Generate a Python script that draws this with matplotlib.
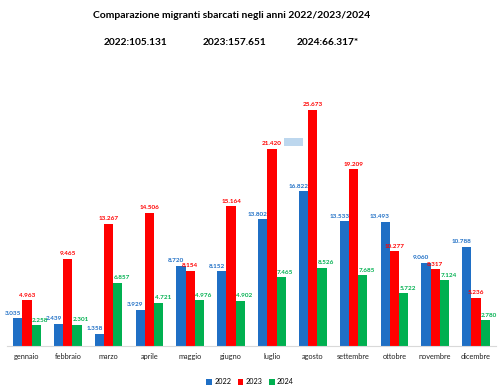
import matplotlib
matplotlib.use("Agg")
import matplotlib.pyplot as plt
import numpy as np
from matplotlib.patches import Rectangle

months = ["gennaio", "febbraio", "marzo", "aprile", "maggio", "giugno",
          "luglio", "agosto", "settembre", "ottobre", "novembre", "dicembre"]
v2022 = [3035, 2439, 1358, 3929, 8720, 8152, 13802, 16822, 13533, 13493, 9060, 10788]
v2023 = [4963, 9465, 13267, 14506, 8154, 15164, 21420, 25673, 19209, 10277, 8317, 5236]
v2024 = [2258, 2301, 6857, 4721, 4976, 4902, 7465, 8526, 7685, 5722, 7124, 2780]
series_names = ["2022", "2023", "2024"]
title = "Comparazione migranti sbarcati negli anni 2022/2023/2024"
totals = ["2022:105.131", "2023:157.651", "2024:66.317*"]

colors = ["#1F6FC5", "#FF0000", "#00B050"]
plt.rcParams['font.family'] = ['Lato', 'DejaVu Sans']

W, H = 502, 390
fig = plt.figure(figsize=(W / 100, H / 100), dpi=100)
ax = fig.add_axes([6.6 / W, 1 - 346 / H, 489.8 / W, 276 / H])

x = np.arange(len(months))
bw = 0.226
data = [v2022, v2023, v2024]
offsets = [-bw, 0, bw]
lab_dx = [-3.6, 0, 2.9]
for i, (vals, c) in enumerate(zip(data, colors)):
    ax.bar(x + offsets[i], vals, width=bw, color=c, label=series_names[i], zorder=2)
    for xi, v in zip(x, vals):
        ax.annotate(f"{v:,}".replace(",", "."), (xi + offsets[i], v),
                    xytext=(lab_dx[i], 1.8), textcoords="offset points",
                    ha="center", va="bottom", fontsize=4.6, fontweight="bold",
                    color=c, zorder=3)

ax.set_xlim(-0.5, len(months) - 0.5)
ax.set_ylim(0, 30000)
for s in ["top", "right", "left"]:
    ax.spines[s].set_visible(False)
ax.spines["bottom"].set_color("#D9D9D9")
ax.spines["bottom"].set_linewidth(0.8)
ax.set_yticks([])
ax.set_xticks(x)
ax.set_xticklabels(months, fontsize=5.3, color="#222222")
ax.tick_params(axis="x", length=0, pad=5)

leg = fig.legend(loc="center", bbox_to_anchor=(250 / W, 1 - 382 / H), ncol=3,
                 frameon=False, fontsize=5.2, handlelength=0.8, handleheight=0.8,
                 handletextpad=0.3, columnspacing=0.9)

fig.text(232 / W, 1 - 15 / H, title, ha="center", va="center",
         fontsize=7.5, fontweight="bold")
for t, cx in zip(totals, [136, 235, 328]):
    fig.text(cx / W, 1 - 42.5 / H, t, ha="center", va="center",
             fontsize=7.3, fontweight="bold")

fig.patches.append(Rectangle((284 / W, 1 - 146 / H), 19 / W, 8 / H,
                             transform=fig.transFigure, facecolor="#BDD7EE",
                             edgecolor="none"))

fig.savefig("out.png", dpi=100)
